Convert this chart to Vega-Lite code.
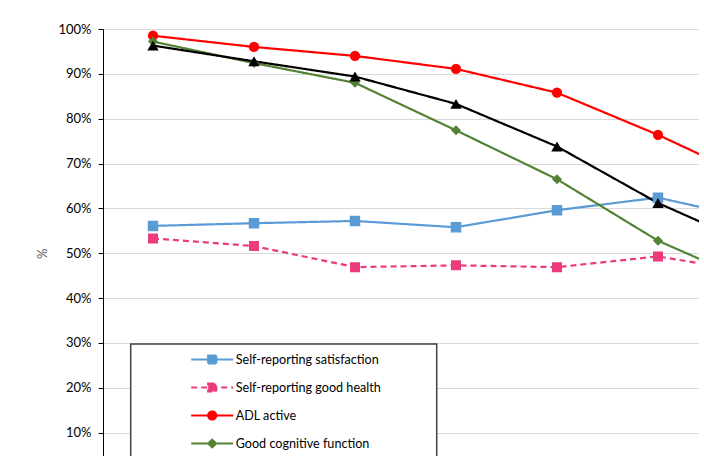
{
  "$schema": "https://vega.github.io/schema/vega-lite/v6.json",
  "autosize": "none",
  "width": 596,
  "height": 448.5,
  "padding": {"left": 103, "top": 29, "right": 0, "bottom": 0},
  "background": "white",
  "data": {
    "values": [
      {"series": "Self-reporting satisfaction", "idx": 0, "value": 0.561},
      {"series": "Self-reporting satisfaction", "idx": 1, "value": 0.567},
      {"series": "Self-reporting satisfaction", "idx": 2, "value": 0.572},
      {"series": "Self-reporting satisfaction", "idx": 3, "value": 0.558},
      {"series": "Self-reporting satisfaction", "idx": 4, "value": 0.596},
      {"series": "Self-reporting satisfaction", "idx": 5, "value": 0.624},
      {"series": "Self-reporting satisfaction", "idx": 6, "value": 0.574},
      {"series": "Self-reporting good health", "idx": 0, "value": 0.533},
      {"series": "Self-reporting good health", "idx": 1, "value": 0.516},
      {"series": "Self-reporting good health", "idx": 2, "value": 0.469},
      {"series": "Self-reporting good health", "idx": 3, "value": 0.473},
      {"series": "Self-reporting good health", "idx": 4, "value": 0.469},
      {"series": "Self-reporting good health", "idx": 5, "value": 0.493},
      {"series": "Self-reporting good health", "idx": 6, "value": 0.455},
      {"series": "ADL active", "idx": 0, "value": 0.985},
      {"series": "ADL active", "idx": 1, "value": 0.960},
      {"series": "ADL active", "idx": 2, "value": 0.940},
      {"series": "ADL active", "idx": 3, "value": 0.911},
      {"series": "ADL active", "idx": 4, "value": 0.858},
      {"series": "ADL active", "idx": 5, "value": 0.764},
      {"series": "ADL active", "idx": 6, "value": 0.659},
      {"series": "Good cognitive function", "idx": 0, "value": 0.972},
      {"series": "Good cognitive function", "idx": 1, "value": 0.924},
      {"series": "Good cognitive function", "idx": 2, "value": 0.880},
      {"series": "Good cognitive function", "idx": 3, "value": 0.774},
      {"series": "Good cognitive function", "idx": 4, "value": 0.665},
      {"series": "Good cognitive function", "idx": 5, "value": 0.528},
      {"series": "Good cognitive function", "idx": 6, "value": 0.429},
      {"series": "Series 5", "idx": 0, "value": 0.963},
      {"series": "Series 5", "idx": 1, "value": 0.928},
      {"series": "Series 5", "idx": 2, "value": 0.894},
      {"series": "Series 5", "idx": 3, "value": 0.833},
      {"series": "Series 5", "idx": 4, "value": 0.738},
      {"series": "Series 5", "idx": 5, "value": 0.612},
      {"series": "Series 5", "idx": 6, "value": 0.512}
    ]
  },
  "encoding": {
    "x": {"field": "idx", "type": "quantitative", "scale": {"domain": [-0.495, 5.406], "nice": false, "zero": false}, "axis": null},
    "y": {
      "field": "value", "type": "quantitative",
      "scale": {"domain": [0, 1], "nice": false},
      "axis": {
        "title": "%", "format": ".0%", "values": [0, 0.1, 0.2, 0.3, 0.4, 0.5, 0.6, 0.7, 0.8, 0.9, 1.0],
        "grid": true, "gridColor": "#d9d9d9", "gridWidth": 1,
        "domainColor": "#000000", "domainWidth": 1,
        "tickColor": "#000000", "tickSize": 5, "tickWidth": 1,
        "labelFont": "Lato", "labelFontSize": 13, "labelColor": "#000000", "labelPadding": 7,
        "titleFont": "Lato", "titleFontSize": 13, "titleFontWeight": "normal", "titleColor": "#595959", "titlePadding": 8
      }
    },
    "color": {
      "field": "series", "type": "nominal",
      "scale": {
        "domain": ["Self-reporting satisfaction", "Self-reporting good health", "ADL active", "Good cognitive function", "Series 5"],
        "range": ["#5b9bd5", "#ec3a7c", "#ff0000", "#548235", "#000000"]
      },
      "legend": {
        "orient": "none", "legendX": 27.7, "legendY": 315,
        "title": " ", "titleOrient": "right", "titlePadding": 47,
        "strokeColor": "#404040", "fillColor": "#ffffff", "padding": 9,
        "symbolSize": 100, "symbolOffset": 66, "labelOffset": 17, "rowPadding": 11,
        "labelFont": "Lato", "labelFontSize": 12.6, "labelColor": "#000000",
        "encode": {
          "legend": {"update": {"strokeWidth": {"value": 1.5}}},
          "symbols": {
            "update": {
              "shape": {"signal": "datum.value === 'ADL active' ? 'M-4.2,0H4.2M0.8,0A0.8,0.8 0 1,1 -0.8,0A0.8,0.8 0 1,1 0.8,0Z' : datum.value === 'Good cognitive function' ? 'M-4.2,0H4.2M0,-0.75L0.75,0L0,0.75L-0.75,0Z' : datum.value === 'Series 5' ? 'M-4.2,0H4.2M0,-0.9L0.9,0.7H-0.9Z' : 'M-4.2,0H4.2M-0.8,-0.8H0.8V0.8H-0.8Z'"},
              "size": {"value": 100},
              "fill": {"signal": "scale('color', datum.value)"},
              "stroke": {"signal": "scale('color', datum.value)"},
              "strokeWidth": {"signal": "datum.value === 'ADL active' ? 1.5 : 2"},
              "strokeDash": {"signal": "datum.value === 'Self-reporting good health' ? [5, 3] : [1, 0]"},
              "opacity": {"value": 1},
              "fillOpacity": {"value": 1},
              "strokeOpacity": {"value": 1}
            }
          }
        }
      }
    }
  },
  "layer": [
    {
      "mark": {"type": "line", "clip": true},
      "encoding": {
        "strokeDash": {
          "field": "series", "type": "nominal", "legend": null,
          "scale": {
            "domain": ["Self-reporting satisfaction", "Self-reporting good health", "ADL active", "Good cognitive function", "Series 5"],
            "range": [[1, 0], [6, 4], [1, 0], [1, 0], [1, 0]]
          }
        },
        "strokeWidth": {
          "field": "series", "type": "ordinal", "legend": null,
          "scale": {
            "domain": ["Self-reporting satisfaction", "Self-reporting good health", "ADL active", "Good cognitive function", "Series 5"],
            "range": [2.2, 2.2, 1.5, 2.2, 2.5]
          }
        }
      }
    },
    {
      "transform": [{"filter": "datum.series === 'Self-reporting satisfaction'"}],
      "mark": {"type": "point", "shape": "square", "size": 110, "filled": true, "opacity": 1, "clip": true}
    },
    {
      "transform": [{"filter": "datum.series === 'Self-reporting good health'"}],
      "mark": {"type": "point", "shape": "square", "size": 100, "filled": true, "opacity": 1, "clip": true}
    },
    {
      "transform": [{"filter": "datum.series === 'ADL active'"}],
      "mark": {"type": "point", "shape": "circle", "size": 105, "filled": true, "opacity": 1, "clip": true}
    },
    {
      "transform": [{"filter": "datum.series === 'Good cognitive function'"}],
      "mark": {"type": "point", "shape": "diamond", "size": 100, "filled": true, "opacity": 1, "clip": true}
    },
    {
      "transform": [{"filter": "datum.series === 'Series 5'"}],
      "mark": {"type": "point", "shape": "triangle-up", "size": 130, "filled": true, "opacity": 1, "clip": true}
    }
  ],
  "config": {"view": {"stroke": null}}
}
